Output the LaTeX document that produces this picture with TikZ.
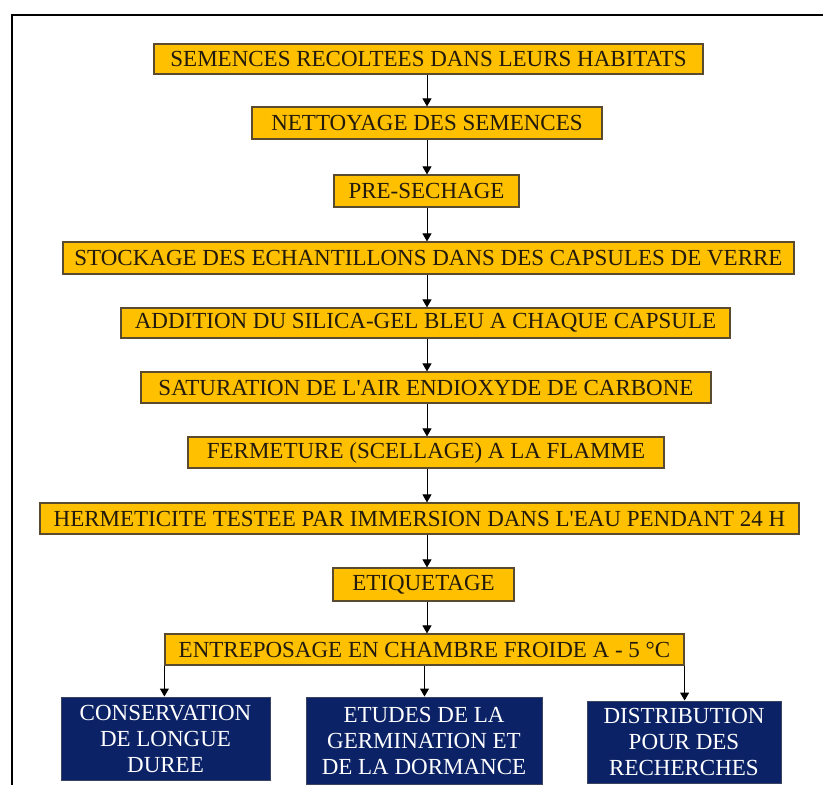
\documentclass[tikz,border=0pt]{standalone}
\usepackage{fontspec}
\setmainfont{Liberation Serif}
\usetikzlibrary{arrows.meta}
\definecolor{boxyellow}{HTML}{FFC000}
\definecolor{boxedge}{HTML}{5A4A30}
\definecolor{boxnavy}{HTML}{0C2266}
\definecolor{navyedge}{HTML}{3A4460}
\definecolor{textdark}{HTML}{221A0C}
\tikzset{
  ybox/.style={draw=boxedge, line width=1.2pt, fill=boxyellow, text=textdark,
    inner sep=0pt, font=\fontsize{23}{26}\selectfont},
  nbox/.style={draw=navyedge, line width=1pt, fill=boxnavy, text=white,
    inner sep=0pt, align=center, font=\fontsize{23}{26}\selectfont},
  arr/.style={draw=black, line width=1pt, -{Triangle[width=9pt,length=8pt]}},
}
\begin{document}
\begin{tikzpicture}[x=1pt,y=-1pt]
\useasboundingbox (0,0) rectangle (823,785);
\coordinate (fbl) at (12,785);
\coordinate (ftl) at (12,15);
\coordinate (ftr) at (823,15);
\draw[line width=2.2pt] (fbl) -- (ftl) -- (ftr);
\coordinate (spine) at (427,0);

\node[ybox, minimum width=549, minimum height=30] (b1) at (428.5,59) {SEMENCES RECOLTEES DANS LEURS HABITATS};
\node[ybox, minimum width=350, minimum height=32] (b2) at (427,123) {NETTOYAGE DES SEMENCES};
\node[ybox, minimum width=185, minimum height=32] (b3) at (426.5,191) {PRE-SECHAGE};
\node[ybox, minimum width=731, minimum height=32] (b4) at (428.5,258) {STOCKAGE DES ECHANTILLONS DANS DES CAPSULES DE VERRE};
\node[ybox, minimum width=609, minimum height=30] (b5) at (425.5,323) {ADDITION DU SILICA-GEL BLEU A CHAQUE CAPSULE};
\node[ybox, minimum width=570, minimum height=31] (b6) at (426,387.5) {SATURATION DE L\textquotesingle AIR ENDIOXYDE DE CARBONE};
\node[ybox, minimum width=476, minimum height=31] (b7) at (426,452.5) {FERMETURE (SCELLAGE) A LA FLAMME};
\node[ybox, minimum width=759, minimum height=31] (b8) at (419.5,518.5) {HERMETICITE TESTEE PAR IMMERSION DANS L\textquotesingle EAU PENDANT 24 H};
\node[ybox, minimum width=181, minimum height=33] (b9) at (423.5,584.5) {ETIQUETAGE};
\node[ybox, minimum width=519, minimum height=31] (b10) at (424.5,649.5) {ENTREPOSAGE EN CHAMBRE FROIDE A - 5 °C};

\node[nbox, minimum width=209, minimum height=83] (c1) at (165.5,738.5) {CONSERVATION\\DE LONGUE\\DUREE};
\node[nbox, minimum width=236, minimum height=87] (c2) at (424,740.5) {ETUDES DE LA\\GERMINATION ET\\DE LA DORMANCE};
\node[nbox, minimum width=194, minimum height=82] (c3) at (684,742) {DISTRIBUTION\\POUR DES\\RECHERCHES};

\foreach \a/\b in {b1/b2,b2/b3,b3/b4,b4/b5,b5/b6,b6/b7,b7/b8,b8/b9,b9/b10}
  \draw[arr] (\a.south -| spine) -- (\b.north -| spine);
\draw[arr] (b10.south west) -- (b10.south west |- c1.north);
\draw[arr] (b10.south) -- (b10.south |- c2.north);
\draw[arr] (b10.south east) -- (b10.south east |- c3.north);
\end{tikzpicture}
\end{document}
